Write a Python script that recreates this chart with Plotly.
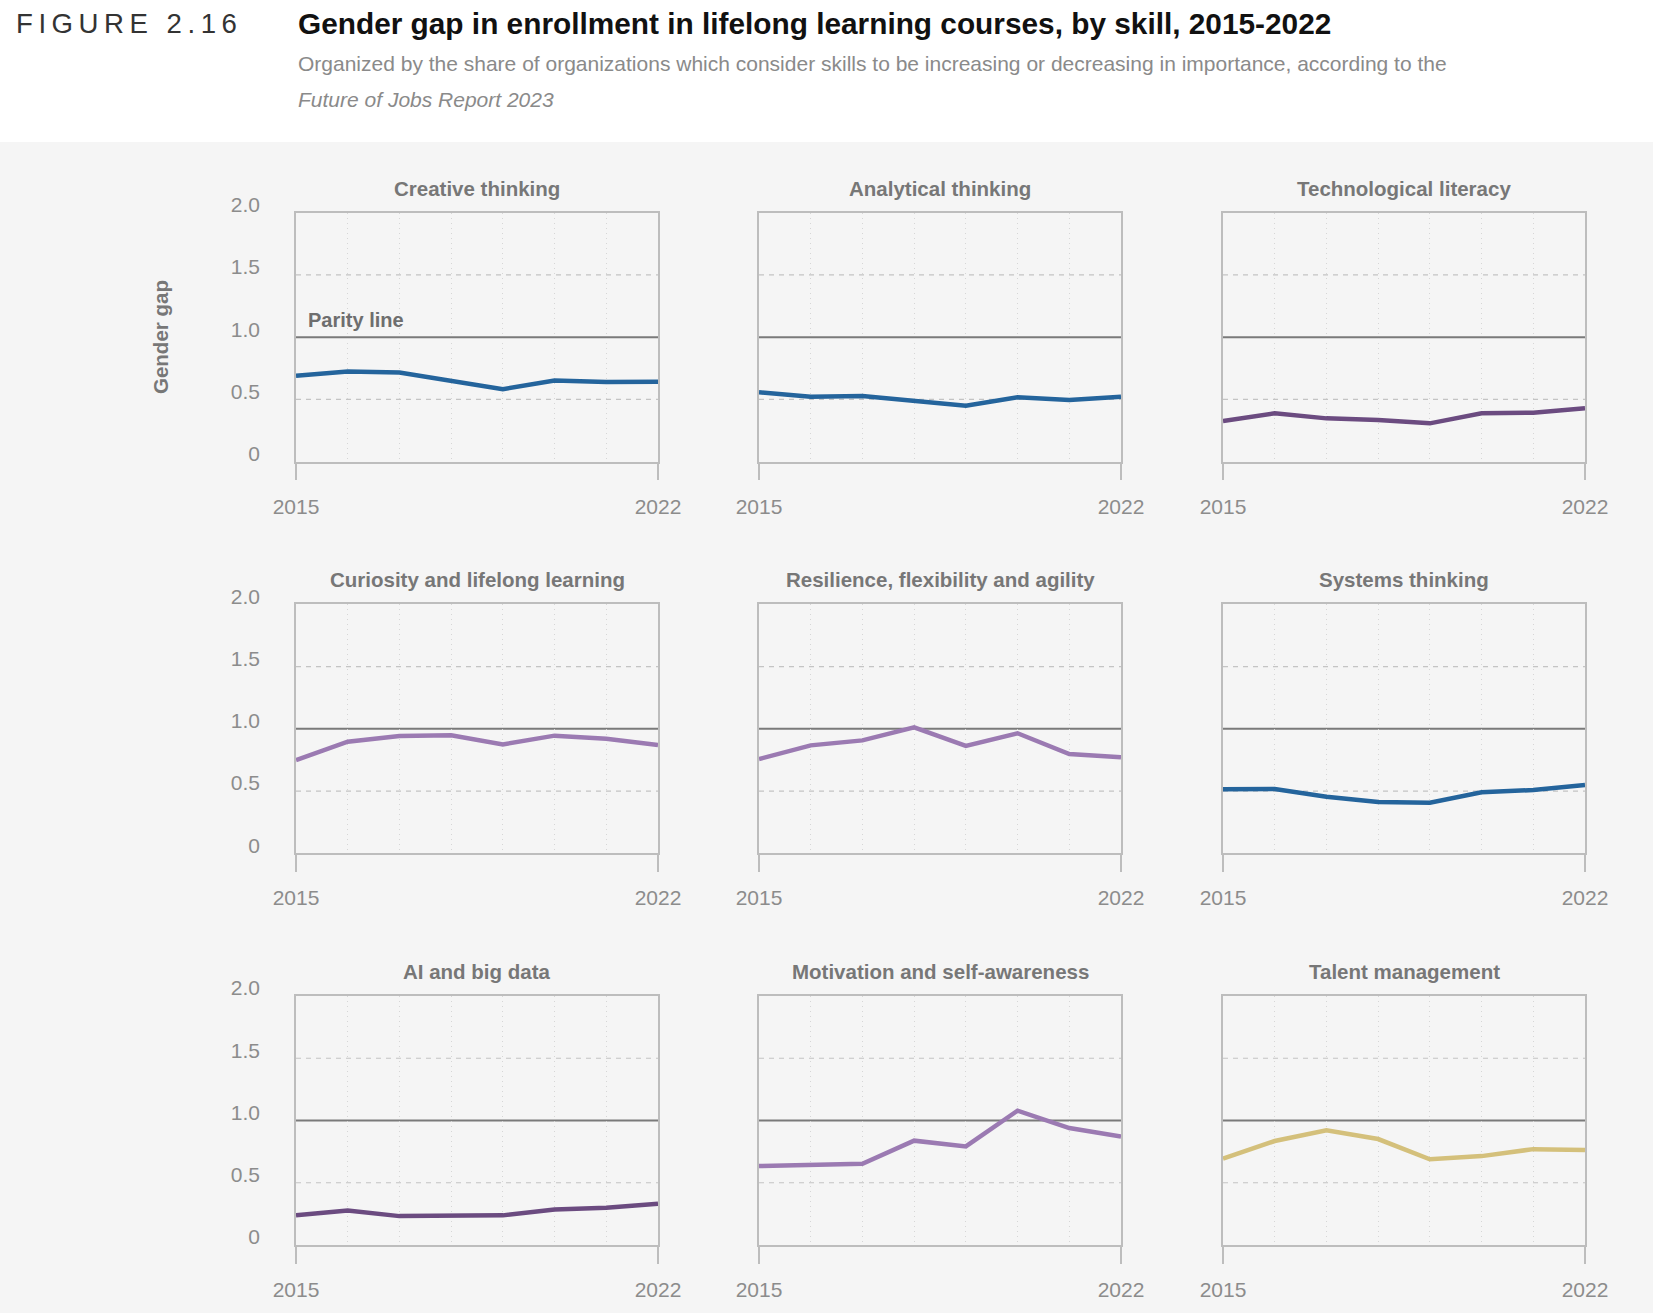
import plotly.graph_objects as go

# ---------------- data ----------------
years = [2015, 2016, 2017, 2018, 2019, 2020, 2021, 2022]

skills = [
    "Creative thinking", "Analytical thinking", "Technological literacy",
    "Curiosity and lifelong learning", "Resilience, flexibility and agility", "Systems thinking",
    "AI and big data", "Motivation and self-awareness", "Talent management",
]

creative_thinking = [0.69, 0.725, 0.717, 0.652, 0.583, 0.652, 0.640, 0.643]
analytical_thinking = [0.557, 0.522, 0.528, 0.490, 0.450, 0.517, 0.496, 0.522]
technological_literacy = [0.327, 0.389, 0.348, 0.335, 0.308, 0.389, 0.394, 0.429]
curiosity_lifelong = [0.749, 0.896, 0.942, 0.948, 0.875, 0.945, 0.920, 0.870]
resilience_flex = [0.757, 0.867, 0.907, 1.012, 0.862, 0.964, 0.797, 0.771]
systems_thinking = [0.514, 0.516, 0.455, 0.412, 0.407, 0.490, 0.508, 0.549]
ai_big_data = [0.238, 0.278, 0.232, 0.232, 0.238, 0.286, 0.300, 0.332]
motivation_self = [0.634, 0.645, 0.653, 0.838, 0.792, 1.079, 0.939, 0.872]
talent_management = [0.693, 0.835, 0.921, 0.851, 0.688, 0.714, 0.770, 0.763]

series = [creative_thinking, analytical_thinking, technological_literacy,
          curiosity_lifelong, resilience_flex, systems_thinking,
          ai_big_data, motivation_self, talent_management]

BLUE = "#24649c"
DPURPLE = "#6b4b80"
LPURPLE = "#9b7ab2"
GOLD = "#d4c07b"
colors = [BLUE, BLUE, DPURPLE, LPURPLE, LPURPLE, BLUE, DPURPLE, LPURPLE, GOLD]

y_ticks = [0, 0.5, 1.0, 1.5, 2.0]
y_ticktext = ["0", "0.5", "1.0", "1.5", "2.0"]
dashed_levels = [0.5, 1.5]
parity_level = 1.0
x_ticks = [2015, 2022]
x_ticktext = ["2015", "2022"]

# ---------------- layout geometry (pixels) ----------------
W, H = 1653, 1313
cols_px = [(296, 658), (759, 1121), (1223, 1585)]
rows_px = [(212.7, 461.7), (604.3, 853.3), (996, 1245)]

FONT = "Liberation Sans, Arial, Helvetica, sans-serif"
TICK_GRAY = "#8c8c8c"
TITLE_GRAY = "#777777"
BOX = "#bdbdbd"
BG = "#f5f5f5"

fig = go.Figure()
layout = dict()
annotations = []
shapes = []

# white header band
shapes.append(dict(type="rect", xref="paper", yref="paper", x0=0, x1=1,
                   y0=1 - 142 / H, y1=1, fillcolor="white", line=dict(width=0),
                   layer="below"))

for i, (name, vals, col) in enumerate(zip(skills, series, colors)):
    r, c = divmod(i, 3)
    k = i + 1
    xname = "x" if k == 1 else f"x{k}"
    yname = "y" if k == 1 else f"y{k}"
    xl = "xaxis" if k == 1 else f"xaxis{k}"
    yl = "yaxis" if k == 1 else f"yaxis{k}"
    x0, x1 = cols_px[c]
    top, bot = rows_px[r]

    fig.add_trace(go.Scatter(x=years, y=vals, mode="lines", xaxis=xname, yaxis=yname,
                             line=dict(color=col, width=4.5), showlegend=False,
                             hoverinfo="x+y"))

    layout[xl] = dict(
        domain=[x0 / W, x1 / W], anchor=yname, range=[2015, 2022],
        tickvals=x_ticks, ticktext=x_ticktext, ticks="outside", ticklen=17,
        tickwidth=1.5, tickcolor=BOX, showline=True, linecolor=BOX, linewidth=1.5,
        mirror=True, showgrid=False, zeroline=False, automargin=False,
        tickfont=dict(family=FONT, size=21, color=TICK_GRAY),
        ticklabelstandoff=8,
        minor=dict(tick0=2015, dtick=1, showgrid=True, gridcolor="#d6d6d6",
                   griddash="1px,4px", gridwidth=1, ticks=""),
        fixedrange=True,
    )
    layout[yl] = dict(
        domain=[1 - bot / H, 1 - top / H], anchor=xname, range=[0, 2],
        tickvals=y_ticks, ticktext=y_ticktext, ticks="",
        showticklabels=(c == 0), automargin=False,
        showline=True, linecolor=BOX, linewidth=1.5, mirror=True,
        showgrid=False, zeroline=False,
        tickfont=dict(family=FONT, size=21, color=TICK_GRAY),
        ticklabelstandoff=30, ticklabelshift=-8,
        fixedrange=True,
    )

    # dashed reference lines
    for lv in dashed_levels:
        shapes.append(dict(type="line", xref=f"{xname} domain", yref=yname,
                           x0=0, x1=1, y0=lv, y1=lv,
                           line=dict(color="#c4c4c4", width=1.2, dash="5px,5px"),
                           layer="below"))
    # parity line
    shapes.append(dict(type="line", xref=f"{xname} domain", yref=yname,
                       x0=0, x1=1, y0=parity_level, y1=parity_level,
                       line=dict(color="#7a7a7a", width=2), layer="below"))

    # panel title
    annotations.append(dict(text=name, xref="paper", yref="paper",
                            x=(x0 + x1) / 2 / W, y=1 - (top - 24.4) / H,
                            xanchor="center", yanchor="middle", showarrow=False,
                            font=dict(family=FONT, size=20.5, color=TITLE_GRAY, weight="bold")))

# Parity line label
annotations.append(dict(text="Parity line", xref="x domain", yref="y",
                        x=0, y=parity_level, xanchor="left", yanchor="bottom",
                        xshift=10, yshift=4, showarrow=False,
                        font=dict(family=FONT, size=20, color="#6e6e6e", weight="bold")))

# y axis title
annotations.append(dict(text="Gender gap", xref="paper", yref="paper",
                        x=160 / W, y=1 - 337 / H, textangle=-90,
                        xanchor="center", yanchor="middle", showarrow=False,
                        font=dict(family=FONT, size=20.5, color=TITLE_GRAY, weight="bold")))

# header texts
annotations.append(dict(text="F\u2009I\u2009G\u2009U\u2009R\u2009E\u2009 \u20092\u2009.\u20091\u20096",
                        xref="paper", yref="paper", x=14 / W, y=1 - 24 / H,
                        xanchor="left", yanchor="middle", showarrow=False,
                        font=dict(family=FONT, size=27.6, color="#333333")))
annotations.append(dict(text="Gender gap in enrollment in lifelong learning courses, by skill, 2015-2022",
                        xref="paper", yref="paper", x=296 / W, y=1 - 24 / H,
                        xanchor="left", yanchor="middle", showarrow=False,
                        font=dict(family=FONT, size=29.8, color="#111111", weight="bold")))
annotations.append(dict(text="Organized by the share of organizations which consider skills to be increasing or decreasing in importance, according to the",
                        xref="paper", yref="paper", x=296 / W, y=1 - 63 / H,
                        xanchor="left", yanchor="middle", showarrow=False,
                        font=dict(family=FONT, size=21, color="#8a8a8a")))
annotations.append(dict(text="<i>Future of Jobs Report 2023</i>",
                        xref="paper", yref="paper", x=296 / W, y=1 - 99 / H,
                        xanchor="left", yanchor="middle", showarrow=False,
                        font=dict(family=FONT, size=21, color="#8a8a8a")))

fig.update_layout(
    width=W, height=H, margin=dict(l=0, r=0, t=0, b=0, pad=0, autoexpand=False),
    paper_bgcolor=BG, plot_bgcolor=BG,
    font=dict(family=FONT),
    annotations=annotations, shapes=shapes, showlegend=False,
    **layout,
)

fig.write_html("out.html", config={"displayModeBar": False},
               post_script="document.body.style.margin='0';")
